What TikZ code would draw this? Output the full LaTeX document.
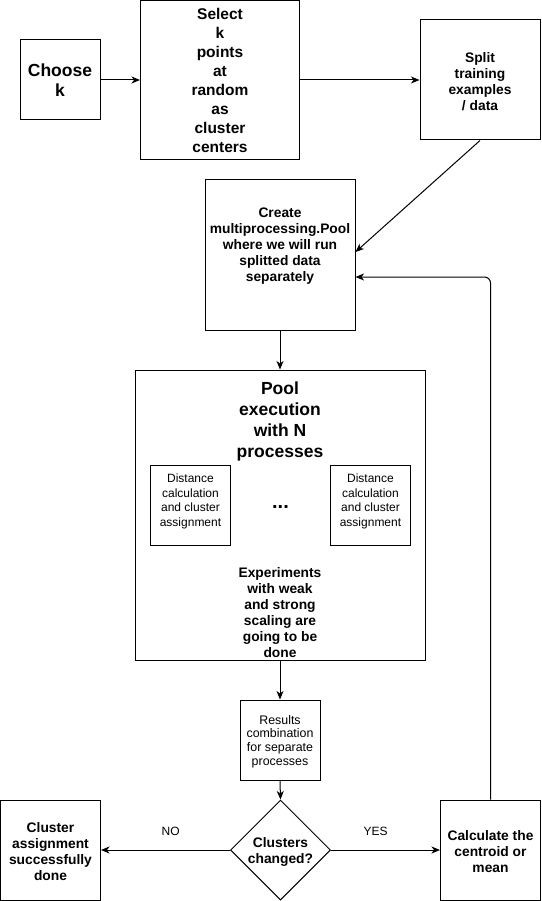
\documentclass[tikz,border=0pt]{standalone}
\usepackage{fontspec}
\setmainfont{Liberation Sans}
\usetikzlibrary{arrows.meta,shapes.geometric}
\begin{document}
\begin{tikzpicture}[x=1pt,y=-1pt,
  box/.style={draw, line width=1pt, inner sep=0pt, align=center, minimum size=#1},
  txt/.style={align=center, inner sep=0pt},
  arr/.style={line width=1pt, -{Stealth[length=8.5pt,width=7pt,inset=2.5pt]}},
  fbig/.style={font=\fontsize{17.5}{20}\selectfont\bfseries},
  fsel/.style={font=\fontsize{15.5}{19}\selectfont\bfseries},
  fbold/.style={font=\fontsize{13.8}{16}\selectfont\bfseries},
  fplain/.style={font=\fontsize{12}{14.5}\selectfont},
  fres/.style={font=\fontsize{12.4}{13.8}\selectfont},
  flabel/.style={font=\fontsize{12}{14}\selectfont},
  ftitle/.style={font=\fontsize{17.5}{21}\selectfont\bfseries}]
  \useasboundingbox (0,0) rectangle (541,901);

  % top row
  \node[box=80pt, fbig] (choose) at (60,80) {Choose\\k};
  \node[box=159pt, fsel] (select) at (220,80.5) {Select\\k\\points\\at\\random\\as\\cluster\\centers};
  \node[box=120pt] (split) at (480,80) {};
  \node[txt, fbold] (splittxt) at (480,82) {Split\\training\\examples\\/ data};

  % pool creation
  \node[box=150pt] (create) at (280,255) {};
  \node[txt, fbold] (createtxt) at (280,246.5)
    {Create\\multiprocessing.Pool\\where we will run\\splitted data\\separately};

  % pool execution
  \node[box=290pt] (pool) at (280,515) {};
  \node[txt, ftitle] (pooltitle) at (280,421.5) {Pool\\execution\\with N\\processes};
  \node[box=80pt] (dist1) at (190.5,505) {};
  \node[txt, fplain] (dist1txt) at (190.5,501.5) {Distance\\calculation\\and cluster\\assignment};
  \node[box=80pt] (dist2) at (370.5,505) {};
  \node[txt, fplain] (dist2txt) at (370.5,501.5) {Distance\\calculation\\and cluster\\assignment};
  \node[font=\fontsize{20}{22}\selectfont\bfseries] (dots) at (280.5,507) {...};
  \node[txt, fbold] (exper) at (280,612.5)
    {Experiments\\with weak\\and strong\\scaling are\\going to be\\done};

  % combination and decision
  \node[box=80pt] (results) at (280,740) {};
  \node[txt, fres] (resultstxt) at (280,741.5) {Results\\combination\\for separate\\processes};
  \node[draw, line width=1pt, shape=diamond, aspect=1, inner sep=0pt,
        minimum width=100pt, minimum height=100pt] (changed) at (280.5,850) {};
  \node[txt, fbold] (changedtxt) at (280.5,851.5) {Clusters\\changed?};
  \node[box=100pt] (done) at (50.5,850) {};
  \node[txt, fbold] (donetxt) at (50.5,852) {Cluster\\assignment\\successfully\\done};
  \node[box=100pt] (centroid) at (490.5,850) {};
  \node[txt, fbold] (centroidtxt) at (490.5,852) {Calculate the\\centroid or\\mean};

  % connectors
  \draw[arr] (choose.east) -- (choose.east -| select.west);
  \draw[arr] (select.east |- split.west) -- (split.west);
  \draw[arr] (split.south) -- ([yshift=3pt]create.east);
  \draw[arr] (create.south) -- (pool.north);
  \draw[arr] (pool.south) -- (results.north);
  \draw[arr] (results.south) -- (changed.north);
  \draw[arr] (changed.west) -- node[pos=0.46, yshift=19pt, flabel] {NO} (done.east);
  \draw[arr] (changed.east) -- node[pos=0.41, yshift=19pt, flabel] {YES} (centroid.west);
  \draw[arr, rounded corners=6pt] (centroid.north) |- ([yshift=-22pt]create.east);
\end{tikzpicture}
\end{document}
